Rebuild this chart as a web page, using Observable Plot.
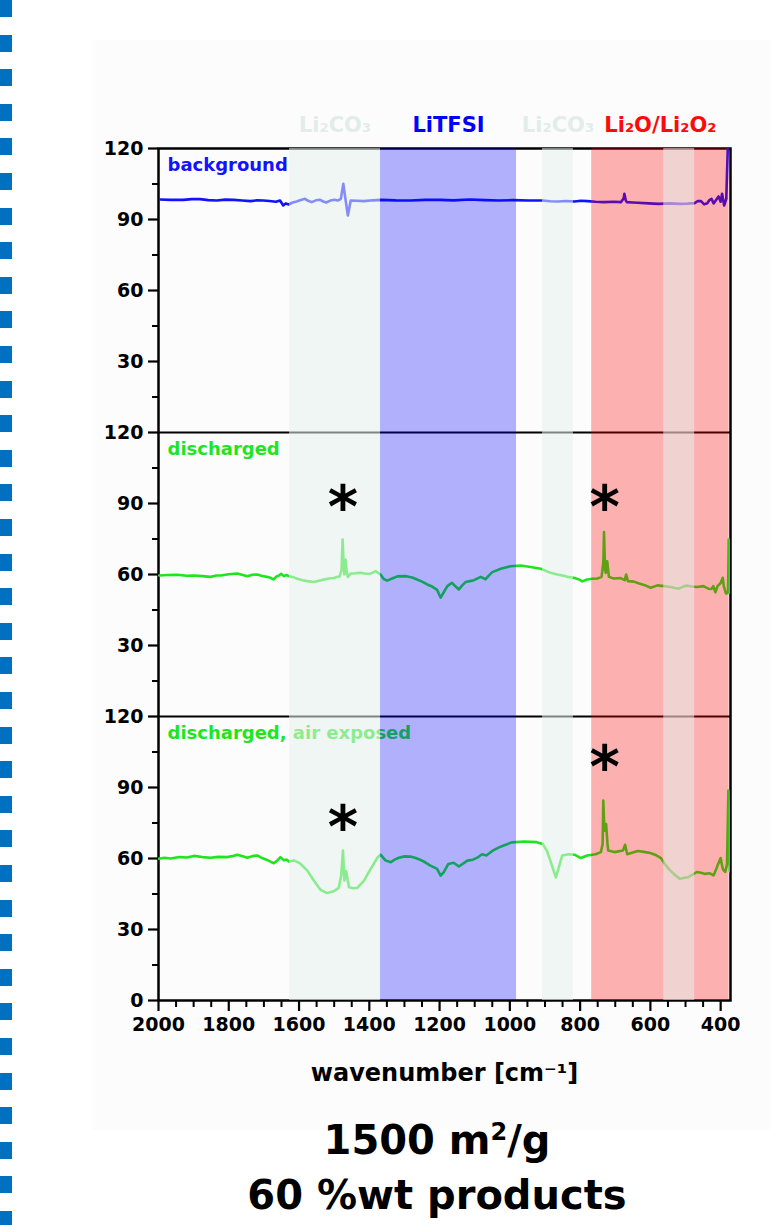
<!DOCTYPE html>
<html><head><meta charset="utf-8">
<script src="https://cdn.jsdelivr.net/npm/d3@7"></script>
<script src="https://cdn.jsdelivr.net/npm/@observablehq/plot@0.6"></script>
<style>
body{margin:0;background:#fff;width:770px;height:1225px;position:relative;overflow:hidden;font-family:"DejaVu Sans",sans-serif;}
#panel{position:absolute;left:93px;top:40px;right:0;height:1090px;background:#fcfcfc;}
#chart{position:absolute;left:0;top:0;}
.sq{position:absolute;left:0;width:12px;height:17px;background:#0070c0;}
.title{position:absolute;left:0;width:874px;text-align:center;font-weight:bold;font-size:40px;line-height:46px;color:#000;}
.title sup{font-size:60%;line-height:0;}
</style></head><body>
<div id="panel"></div>
<div id="chart"></div>
<div class="title" style="top:1117px">1500 m<sup>2</sup>/g</div>
<div class="title" style="top:1172px">60 %wt products</div>
<script>
// ---- data (transmittance, %, per panel 0–120) ----
const backgroundData = [[1996,98.45],[1965,98.3],[1930,98.31],[1905,98.6],[1882,98.6],[1858,98.2],[1834,98.03],[1810,98.4],[1786,98.31],[1762,98.0],[1738,97.75],[1720,98.1],[1702,98.03],[1684,97.8],[1666,97.47],[1654,98.03],[1645,95.92],[1638,96.8],[1630,96.34],[1618,97.2],[1607,97.61],[1595,98.2],[1583,98.73],[1574,97.9],[1564,97.33],[1552,98.1],[1540,98.31],[1531,97.6],[1523,97.19],[1511,98.0],[1499,98.31],[1490,98.0],[1481,98.73],[1474,105.1],[1468,98.73],[1461,91.7],[1453,98.03],[1435,97.9],[1415,97.75],[1390,98.1],[1367,98.31],[1325,98.1],[1283,98.03],[1240,98.3],[1199,98.31],[1160,98.1],[1115,98.45],[1070,98.2],[1031,98.03],[990,98.2],[947,98.03],[907,98.03],[885,97.7],[863,97.61],[840,97.8],[816,97.61],[798,97.9],[780,97.75],[756,97.5],[732,97.33],[705,97.5],[684,97.33],[676,99.0],[674,100.9],[670,98.0],[667,97.33],[650,97.2],[636,97.05],[605,96.8],[576,96.62],[545,96.8],[516,96.62],[495,96.7],[474,96.9],[465,97.8],[456,97.75],[447,96.4],[438,96.9],[432,98.2],[426,98.73],[420,96.8],[414,98.03],[406,99.72],[400,97.5],[396,100.9],[390,95.92],[384,98.73],[380,119.2],[377,122]];
const dischargedData = [[1998,59.6],[1975,59.8],[1947,59.9],[1920,59.5],[1899,59.6],[1875,59.3],[1852,59.0],[1835,59.6],[1823,59.6],[1800,60.1],[1776,60.4],[1760,59.8],[1747,59.3],[1733,59.9],[1719,60.0],[1705,59.4],[1691,59.0],[1680,58.5],[1672,57.9],[1664,59.2],[1657,59.6],[1651,60.3],[1643,59.3],[1636,59.8],[1629,59.3],[1615,58.8],[1605,58.2],[1590,57.6],[1577,57.2],[1558,56.8],[1543,57.4],[1529,57.9],[1515,58.3],[1501,58.5],[1490,59.0],[1484,59.3],[1479,62],[1476,74.8],[1473,63],[1471,60.0],[1468,66.3],[1464,61],[1461,59.0],[1453,60.4],[1440,60.5],[1425,60.7],[1410,60.3],[1396,60.4],[1382,61.4],[1368,60.0],[1359,58.1],[1349,57.4],[1335,58.3],[1320,59.2],[1300,59.3],[1292,59.2],[1278,58.7],[1264,57.9],[1250,57.0],[1235,55.8],[1220,54.8],[1207,53.5],[1197,50.2],[1188,52.5],[1178,55.1],[1165,56.5],[1155,55.0],[1145,53.7],[1135,55.5],[1126,56.8],[1114,57.2],[1102,57.6],[1083,59.0],[1069,58.0],[1060,59.5],[1050,61.0],[1026,62.4],[998,63.5],[969,63.8],[941,63.2],[912,62.4],[884,60.7],[865,60.0],[850,59.6],[836,59.0],[818,58.6],[805,58.0],[794,57.1],[780,57.9],[765,58.2],[751,58.3],[739,59.0],[734,65],[732,77.9],[729,62],[727,60.7],[723,65.6],[718,59.0],[704,58.3],[685,58.5],[673,57.6],[669,60.0],[664,57.2],[647,57.0],[632,56.2],[618,55.6],[599,54.4],[580,55.4],[561,55.1],[542,54.7],[530,54.3],[519,54.0],[505,55.0],[496,55.3],[482,54.9],[468,54.7],[449,55.1],[435,54.0],[426,53.9],[421,55.1],[415,52.5],[409,55.1],[400,56.4],[394,58.6],[391,55.1],[385,52.0],[379,52.3],[377,74.8],[374,52.3]];
const airExposedData = [[2000,59.9],[1983,60.3],[1966,60.0],[1940,60.6],[1920,60.4],[1899,61.1],[1875,60.6],[1852,60.3],[1830,60.7],[1804,60.6],[1790,61.0],[1776,61.6],[1760,60.9],[1747,60.3],[1733,61.0],[1719,61.3],[1705,60.2],[1691,59.4],[1680,58.6],[1672,58.0],[1663,59.0],[1653,60.6],[1643,59.2],[1636,59.6],[1629,58.7],[1615,59.2],[1596,57.8],[1577,55.0],[1558,50.7],[1539,46.8],[1520,45.4],[1501,46.2],[1487,47.6],[1480,52.8],[1475,63.4],[1471,50.7],[1466,54.7],[1458,47.9],[1445,47.4],[1434,47.6],[1415,50.7],[1396,55.6],[1377,60.3],[1368,61.6],[1354,59.2],[1339,58.4],[1328,59.5],[1316,60.3],[1300,60.9],[1283,60.8],[1268,60.2],[1254,59.4],[1240,58.3],[1226,57.0],[1207,55.6],[1197,52.8],[1188,54.2],[1175,57.7],[1160,58.2],[1145,56.6],[1121,59.1],[1105,59.5],[1091,60.5],[1079,61.8],[1067,61.3],[1049,63.3],[1025,65.1],[995,66.8],[959,67.2],[924,66.9],[906,66.1],[894,63.0],[881,57.4],[869,52.0],[861,56.0],[851,61.3],[833,61.8],[816,61.6],[798,60.2],[780,61.3],[756,61.8],[741,62.7],[736,66],[734,84.5],[731,72],[729,71.8],[726,74.6],[722,66],[720,63.4],[702,62.7],[678,63.4],[672,65.8],[666,61.8],[650,62.5],[636,63.2],[618,62.8],[600,62.3],[585,61.5],[570,60.2],[558,57.5],[546,55.3],[530,53.0],[516,51.4],[505,51.8],[492,52.1],[480,53.2],[468,54.3],[456,54.0],[444,53.5],[432,53.8],[420,52.9],[414,55],[408,57.4],[400,60.2],[396,57],[393,55.3],[387,54.3],[382,57.4],[378,88.7],[374,54.6]];

const seriesNames = ["background", "discharged", "discharged, air exposed"];
const seriesColors = ["#1212ff", "#1ee61e", "#1ee61e"];
const panelOffsets = [240, 120, 0];          // each panel spans 0–120
const seriesData = [backgroundData, dischargedData, airExposedData];

const bandLabels = ["Li\u2082CO\u2083", "LiTFSI", "Li\u2082CO\u2083", "Li\u2082O/Li\u2082O\u2082", null];
const bandFrom   = [1627, 1368, 907, 767, 562];
const bandTo     = [1368,  981, 819, 376, 474];
const bandColors = ["#e6f0ec", "#0000ff", "#e6f0ec", "#ff0000", "#e6f0ec"];
const bandOpacity= [0.55, 0.3, 0.55, 0.3, 0.55];
const bandLabelColors = ["#e2ede9", "#0000ff", "#e2ede9", "#ff0a0a", null];

// asterisks: [wavenumber, panel index, value in panel]
const asterisks = [[1475, 1, 94], [730, 1, 94], [1475, 2, 78.5], [730, 2, 104]];

const xMajor = [2000,1800,1600,1400,1200,1000,800,600,400];
const xMinor = [1950,1900,1850,1750,1700,1650,1550,1500,1450,1350,1300,1250,1150,1100,1050,950,900,850,750,700,650,550,500,450];
const yMajor = [0,30,60,90,120,150,180,210,240,270,300,330,360];
const yMinor = [15,45,75,105,135,165,195,225,255,285,315,345];

// ---- decorations ----
for (let k = 0; k < 36; k++) {
  const d = document.createElement("div");
  d.className = "sq"; d.style.top = (k * 34.6) + "px";
  document.body.appendChild(d);
}

// ---- build ----
const lineMarks = seriesData.map((data, i) =>
  Plot.line(data.map(([w, t]) => ({w, y: t + panelOffsets[i]})),
    {x: "w", y: "y", stroke: seriesColors[i], strokeWidth: 2.6, clip: true}));

const labelRows = seriesNames.map((n, i) => ({n, y: panelOffsets[i] + 120, c: seriesColors[i]}));
const bandRows = bandFrom.map((f, i) => ({f, t: bandTo[i], label: bandLabels[i], c: bandColors[i], o: bandOpacity[i], lc: bandLabelColors[i]}));
const astRows = asterisks.map(([w, p, v]) => ({w, y: panelOffsets[p] + v}));

const chart = Plot.plot({
  width: 770, height: 1100,
  marginLeft: 158, marginRight: 40, marginTop: 148, marginBottom: 100,
  x: {domain: [2000, 372]},
  y: {domain: [0, 360]},
  style: {fontFamily: "DejaVu Sans, sans-serif", fontWeight: "bold", fontSize: "18px", color: "black", background: "transparent"},
  marks: [
    Plot.ruleY([120, 240], {stroke: "black", strokeWidth: 2}),
    Plot.frame({stroke: "black", strokeWidth: 2.5}),
    ...labelRows.map(r => Plot.text([r], {frameAnchor: "left", y: "y", text: "n", fill: r.c, textAnchor: "start", dx: 9, dy: 17, fontSize: 18, fontWeight: "bold"})),
    ...lineMarks,
    ...bandRows.map(b => Plot.rect([b], {x1: "f", x2: "t", y1: 0, y2: 360, fill: b.c, fillOpacity: b.o})),
    ...bandRows.filter(b => b.label).map(b => Plot.text([b], {x: d => (d.f + d.t) / 2, y: 360, dy: -23, text: "label", fill: b.lc, fontSize: 21, fontWeight: "bold"})),
    Plot.text(astRows, {x: "w", y: "y", text: () => "*", fontSize: 58, fontWeight: "bold", fill: "black", dy: 14}),
    Plot.axisY({ticks: yMajor, tickFormat: d => d === 0 ? "0" : String(d % 120 === 0 ? 120 : d % 120), tickSize: 10, tickPadding: 5, strokeWidth: 2.2, fontSize: 19, fontWeight: "bold", label: null}),
    Plot.axisY({ticks: yMinor, tickFormat: () => "", tickSize: 6, strokeWidth: 2, label: null}),
    Plot.axisX({ticks: xMajor, tickFormat: d => String(d), tickSize: 11, tickPadding: 6, strokeWidth: 2.2, fontSize: 19, fontWeight: "bold", label: null}),
    Plot.axisX({ticks: xMinor, tickFormat: () => "", tickSize: 7, strokeWidth: 2, label: null}),
    Plot.text(["wavenumber [cm\u207B\u00B9]"], {frameAnchor: "bottom", dy: 80, fontSize: 24, fontWeight: "bold", fill: "black"})
  ]
});
document.getElementById("chart").appendChild(chart);
</script>
</body></html>
